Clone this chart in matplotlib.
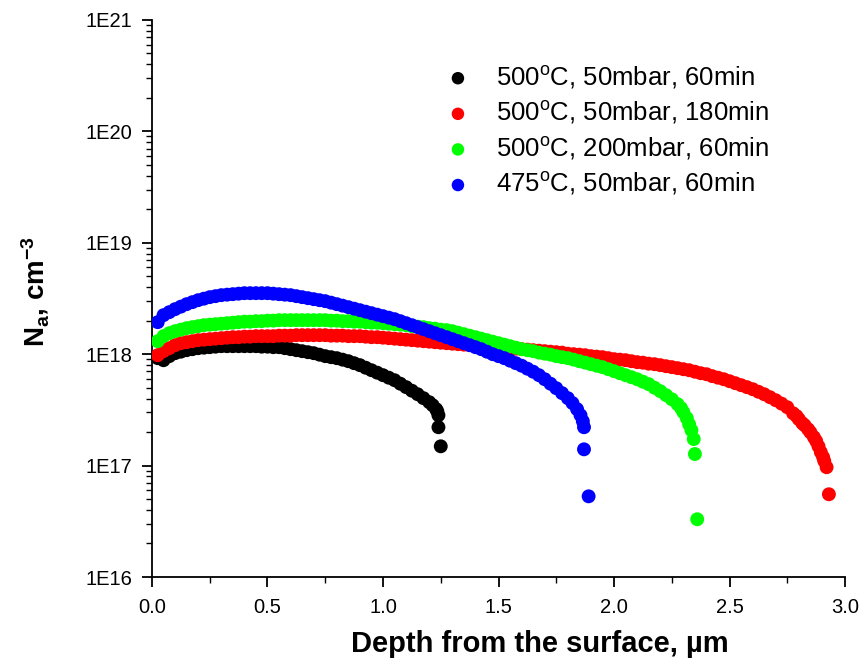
import numpy as np
import matplotlib

matplotlib.use("Agg")
import matplotlib.pyplot as plt
from matplotlib.ticker import FuncFormatter, LogLocator, MultipleLocator

# depth grids (µm) and concentrations (units of 1e17 cm^-3)
black_depth = np.r_[np.arange(1, 49) * 0.025, [1.215, 1.23, 1.235, 1.24, 1.24, 1.25]]
black_n = [9.21, 8.83, 9.60, 10.21, 10.53, 10.86, 11.09, 11.32, 11.44, 11.56,
           11.68, 11.80, 11.80, 11.80, 11.80, 11.80, 11.80, 11.80, 11.68, 11.68,
           11.56, 11.56, 11.32, 11.09, 10.86, 10.64, 10.42, 10.21, 9.90, 9.60,
           9.40, 9.21, 8.93, 8.65, 8.30, 7.97, 7.56, 7.18, 6.82, 6.48,
           6.15, 5.84, 5.43, 5.06, 4.70, 4.37, 4.03, 3.71,
           3.48, 3.21, 3.08, 2.83, 2.21, 1.49]

red_depth = np.r_[np.arange(1, 112) * 0.025,
                  [2.79, 2.8, 2.815, 2.825, 2.84, 2.85, 2.865, 2.875, 2.885,
                   2.895, 2.905, 2.91, 2.92, 2.93]]
red_n = [9.79, 10.64, 11.32, 12.05, 12.55, 12.81, 13.08, 13.36, 13.50, 13.64,
         13.78, 13.92, 14.06, 14.21, 14.21, 14.36, 14.36, 14.51, 14.51, 14.51,
         14.51, 14.66, 14.66, 14.66, 14.81, 14.81, 14.81, 14.81, 14.81, 14.81,
         14.66, 14.66, 14.66, 14.51, 14.51, 14.51, 14.36, 14.21, 14.21, 14.06,
         13.92, 13.78, 13.64, 13.50, 13.36, 13.22, 13.08, 12.95, 12.81, 12.68,
         12.55, 12.42, 12.30, 12.17, 12.05, 11.92, 11.80, 11.68, 11.56, 11.56,
         11.44, 11.32, 11.20, 11.09, 10.98, 10.86, 10.75, 10.64, 10.53, 10.42,
         10.32, 10.10, 10.00, 9.90, 9.79, 9.60, 9.50, 9.40, 9.21, 9.02,
         8.93, 8.83, 8.65, 8.48, 8.39, 8.22, 8.13, 7.97, 7.80, 7.65,
         7.49, 7.33, 7.18, 6.96, 6.75, 6.61, 6.35, 6.15, 5.96, 5.72,
         5.49, 5.27, 5.06, 4.85, 4.60, 4.37, 4.11, 3.86, 3.60, 3.34,
         2.95,
         2.78, 2.61, 2.40, 2.30, 2.12, 1.99, 1.80, 1.66, 1.49, 1.32,
         1.19, 1.10, 0.967, 0.553]

green_depth = np.r_[np.arange(1, 92) * 0.025,
                    [2.29, 2.3, 2.315, 2.325, 2.335, 2.345, 2.35, 2.36]]
green_n = [13.08, 14.51, 15.43, 16.09, 16.60, 17.12, 17.48, 17.84, 18.21, 18.40,
           18.59, 18.78, 18.98, 19.17, 19.38, 19.58, 19.58, 19.78, 19.78, 19.99,
           19.99, 20.20, 20.20, 20.20, 20.20, 20.20, 20.20, 20.20, 20.20, 20.20,
           19.99, 19.99, 19.78, 19.78, 19.58, 19.58, 19.38, 19.17, 19.17, 18.98,
           18.78, 18.59, 18.40, 18.21, 17.84, 17.66, 17.48, 17.12, 16.95, 16.60,
           16.43, 16.09, 15.60, 15.12, 14.66, 14.21, 13.78, 13.36, 12.95, 12.55,
           12.17, 11.80, 11.44, 11.09, 10.86, 10.64, 10.32, 10.10, 9.90, 9.60,
           9.40, 9.21, 8.93, 8.65, 8.39, 8.13, 7.88, 7.65, 7.33, 7.04,
           6.75, 6.48, 6.22, 5.96, 5.66, 5.38, 5.00, 4.66, 4.29, 3.94,
           3.56,
           3.28, 3.02, 2.67, 2.35, 2.08, 1.73, 1.27, 0.33]

blue_depth = np.r_[np.arange(1, 73) * 0.025,
                   [1.82, 1.84, 1.855, 1.865, 1.87, 1.87, 1.89]]
blue_n = [19.38, 22.39, 23.83, 25.35, 26.70, 28.11, 29.30, 30.53, 31.49, 32.49,
          33.17, 33.86, 34.21, 34.56, 34.92, 35.28, 35.28, 35.28, 35.28, 35.28,
          34.92, 34.56, 34.21, 33.86, 33.17, 32.49, 31.82, 31.17, 30.53, 29.91,
          29.00, 28.11, 27.25, 26.42, 25.61, 24.83, 24.07, 23.34, 22.62, 21.94,
          21.27, 20.62, 19.78, 18.98, 18.21, 17.48, 16.77, 16.09, 15.43, 14.81,
          14.21, 13.64, 13.08, 12.55, 12.05, 11.56, 11.09, 10.53, 10.00, 9.60,
          9.21, 8.74, 8.30, 7.88, 7.41, 6.96, 6.48, 5.96, 5.43, 4.95,
          4.47, 4.03,
          3.64, 3.21, 2.83, 2.50, 2.21, 1.40, 0.53]

series = [
    (black_depth, black_n, "#000000", r"500$^{\rm o}$C, 50mbar, 60min"),
    (red_depth, red_n, "#ff0000", r"500$^{\rm o}$C, 50mbar, 180min"),
    (green_depth, green_n, "#00ff00", r"500$^{\rm o}$C, 200mbar, 60min"),
    (blue_depth, blue_n, "#0000ff", r"475$^{\rm o}$C, 50mbar, 60min"),
]

plt.rcParams["font.family"] = ["Liberation Sans", "DejaVu Sans"]
plt.rcParams["mathtext.fontset"] = "custom"
plt.rcParams["mathtext.rm"] = "Liberation Sans"
plt.rcParams["mathtext.it"] = "Liberation Sans"
plt.rcParams["mathtext.bf"] = "Liberation Sans:bold"

fig = plt.figure(figsize=(8.61, 6.64), dpi=100)
ax = fig.add_axes([0.1765, 0.131, 0.805, 0.839])

for depth, n, color, label in series:
    ax.scatter(depth, np.asarray(n) * 1e17, s=100, color=color,
               edgecolors="none", label=label, zorder=3)

ax.set_yscale("log")
ax.set_xlim(0, 3.0)
ax.set_ylim(1e16, 1e21)

for side in ("top", "right"):
    ax.spines[side].set_visible(False)
for side in ("left", "bottom"):
    ax.spines[side].set_linewidth(1.3)

ax.xaxis.set_major_locator(MultipleLocator(0.5))
ax.xaxis.set_minor_locator(MultipleLocator(0.25))
ax.yaxis.set_major_locator(LogLocator(base=10, numticks=10))
ax.yaxis.set_minor_locator(LogLocator(base=10, subs=np.arange(2, 10), numticks=20))
ax.yaxis.set_major_formatter(FuncFormatter(lambda v, p: f"1E{int(round(np.log10(v)))}"))
ax.xaxis.set_major_formatter(FuncFormatter(lambda v, p: f"{v:.1f}"))

ax.tick_params(which="major", direction="out", length=7, width=1.3,
               labelsize=14.5)
ax.tick_params(axis="y", which="major", pad=7)
ax.tick_params(axis="x", which="major", pad=8)
ax.tick_params(which="minor", direction="out", length=4, width=1.0)

ax.set_xlabel("Depth from the surface, µm", fontsize=21, fontweight="bold")
ax.set_ylabel(r"N$_{\mathbf{a}}$, cm$^{\mathbf{-3}}$", fontsize=20,
              fontweight="bold")
ax.xaxis.set_label_coords(0.56, -0.095)
ax.yaxis.set_label_coords(-0.146, 0.512)

ax.legend(loc="upper left", bbox_to_anchor=(0.371, 0.963), frameon=False,
          fontsize=18.5, handletextpad=0.5, labelspacing=0.335,
          markerscale=0.9, scatterpoints=1)

fig.savefig("out.png", dpi=100)
